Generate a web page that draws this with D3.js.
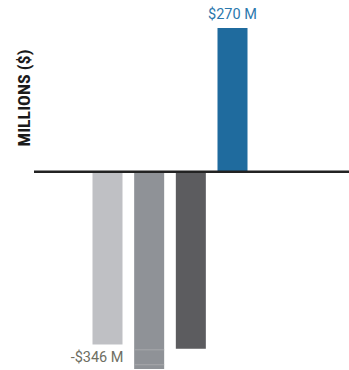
<!DOCTYPE html>
<html>
<head>
<meta charset="utf-8">
<script src="https://cdn.jsdelivr.net/npm/d3@7"></script>
<style>
  html, body { margin: 0; padding: 0; background: #fff; }
  svg { display: block; }
</style>
</head>
<body>
<div id="chart"></div>
<script>
const categories = ["A", "B", "C", "D"];
const values = [-324, -370, -332, 270];
const colors = ["#bfc0c4", "#8f9297", "#5c5c5f", "#1f6b9e"];
const valueLabels = [
  { index: 3, text: "$270 M", color: "#2b78ad" },
  { index: 0, text: "-$346 M", color: "#6e6e62" }
];
const axisTitle = "MILLIONS ($)";
const stripeValues = [-334, -362];

const W = 349, H = 370;
const svg = d3.select("#chart").append("svg").attr("width", W).attr("height", H);

const y = d3.scaleLinear().domain([-370, 270]).range([369, 28]);
const x = d3.scalePoint().domain(categories).range([107.5, 232.5]);
const bw = 30;

svg.selectAll("rect.bar").data(values).enter().append("rect")
  .attr("class", "bar")
  .attr("x", (d, i) => x(categories[i]) - bw / 2)
  .attr("width", bw)
  .attr("y", d => y(Math.max(0, d)))
  .attr("height", d => Math.abs(y(d) - y(0)))
  .attr("fill", (d, i) => colors[i]);

// faint stripes near the bottom of the second bar
svg.selectAll("line.stripe").data(stripeValues).enter().append("line")
  .attr("x1", x(categories[1]) - bw / 2).attr("x2", x(categories[1]) + bw / 2)
  .attr("y1", d => y(d)).attr("y2", d => y(d))
  .attr("stroke", "#a6a8ac").attr("stroke-width", 1);

// baseline
svg.append("line")
  .attr("x1", 34).attr("x2", W)
  .attr("y1", y(0)).attr("y2", y(0))
  .attr("stroke", "#222").attr("stroke-width", 2.5);

// value labels
const lab3 = valueLabels[0];
svg.append("text")
  .attr("x", x(categories[lab3.index]))
  .attr("y", y(values[lab3.index]) - 9)
  .attr("text-anchor", "middle")
  .attr("font-family", "Roboto, 'Liberation Sans', sans-serif")
  .attr("font-weight", 400)
  .attr("font-size", 14.5)
  .attr("fill", lab3.color)
  .text(lab3.text);

const lab0 = valueLabels[1];
svg.append("text")
  .attr("x", x(categories[lab0.index]) + bw / 2 + 1)
  .attr("y", y(values[lab0.index]) + 18)
  .attr("text-anchor", "end")
  .attr("font-family", "Roboto, 'Liberation Sans', sans-serif")
  .attr("font-weight", 400)
  .attr("font-size", 14.5)
  .attr("fill", lab0.color)
  .text(lab0.text);

// axis title
svg.append("text")
  .attr("transform", "translate(30,98) rotate(-90)")
  .attr("text-anchor", "middle")
  .attr("font-family", "'Liberation Sans Narrow', 'Roboto Condensed', 'Liberation Sans', sans-serif")
  .attr("font-weight", 700)
  .attr("font-size", 16.5)
  .attr("textLength", 97)
  .attr("lengthAdjust", "spacingAndGlyphs")
  .attr("fill", "#1a1a1a")
  .text(axisTitle);
</script>
</body>
</html>
